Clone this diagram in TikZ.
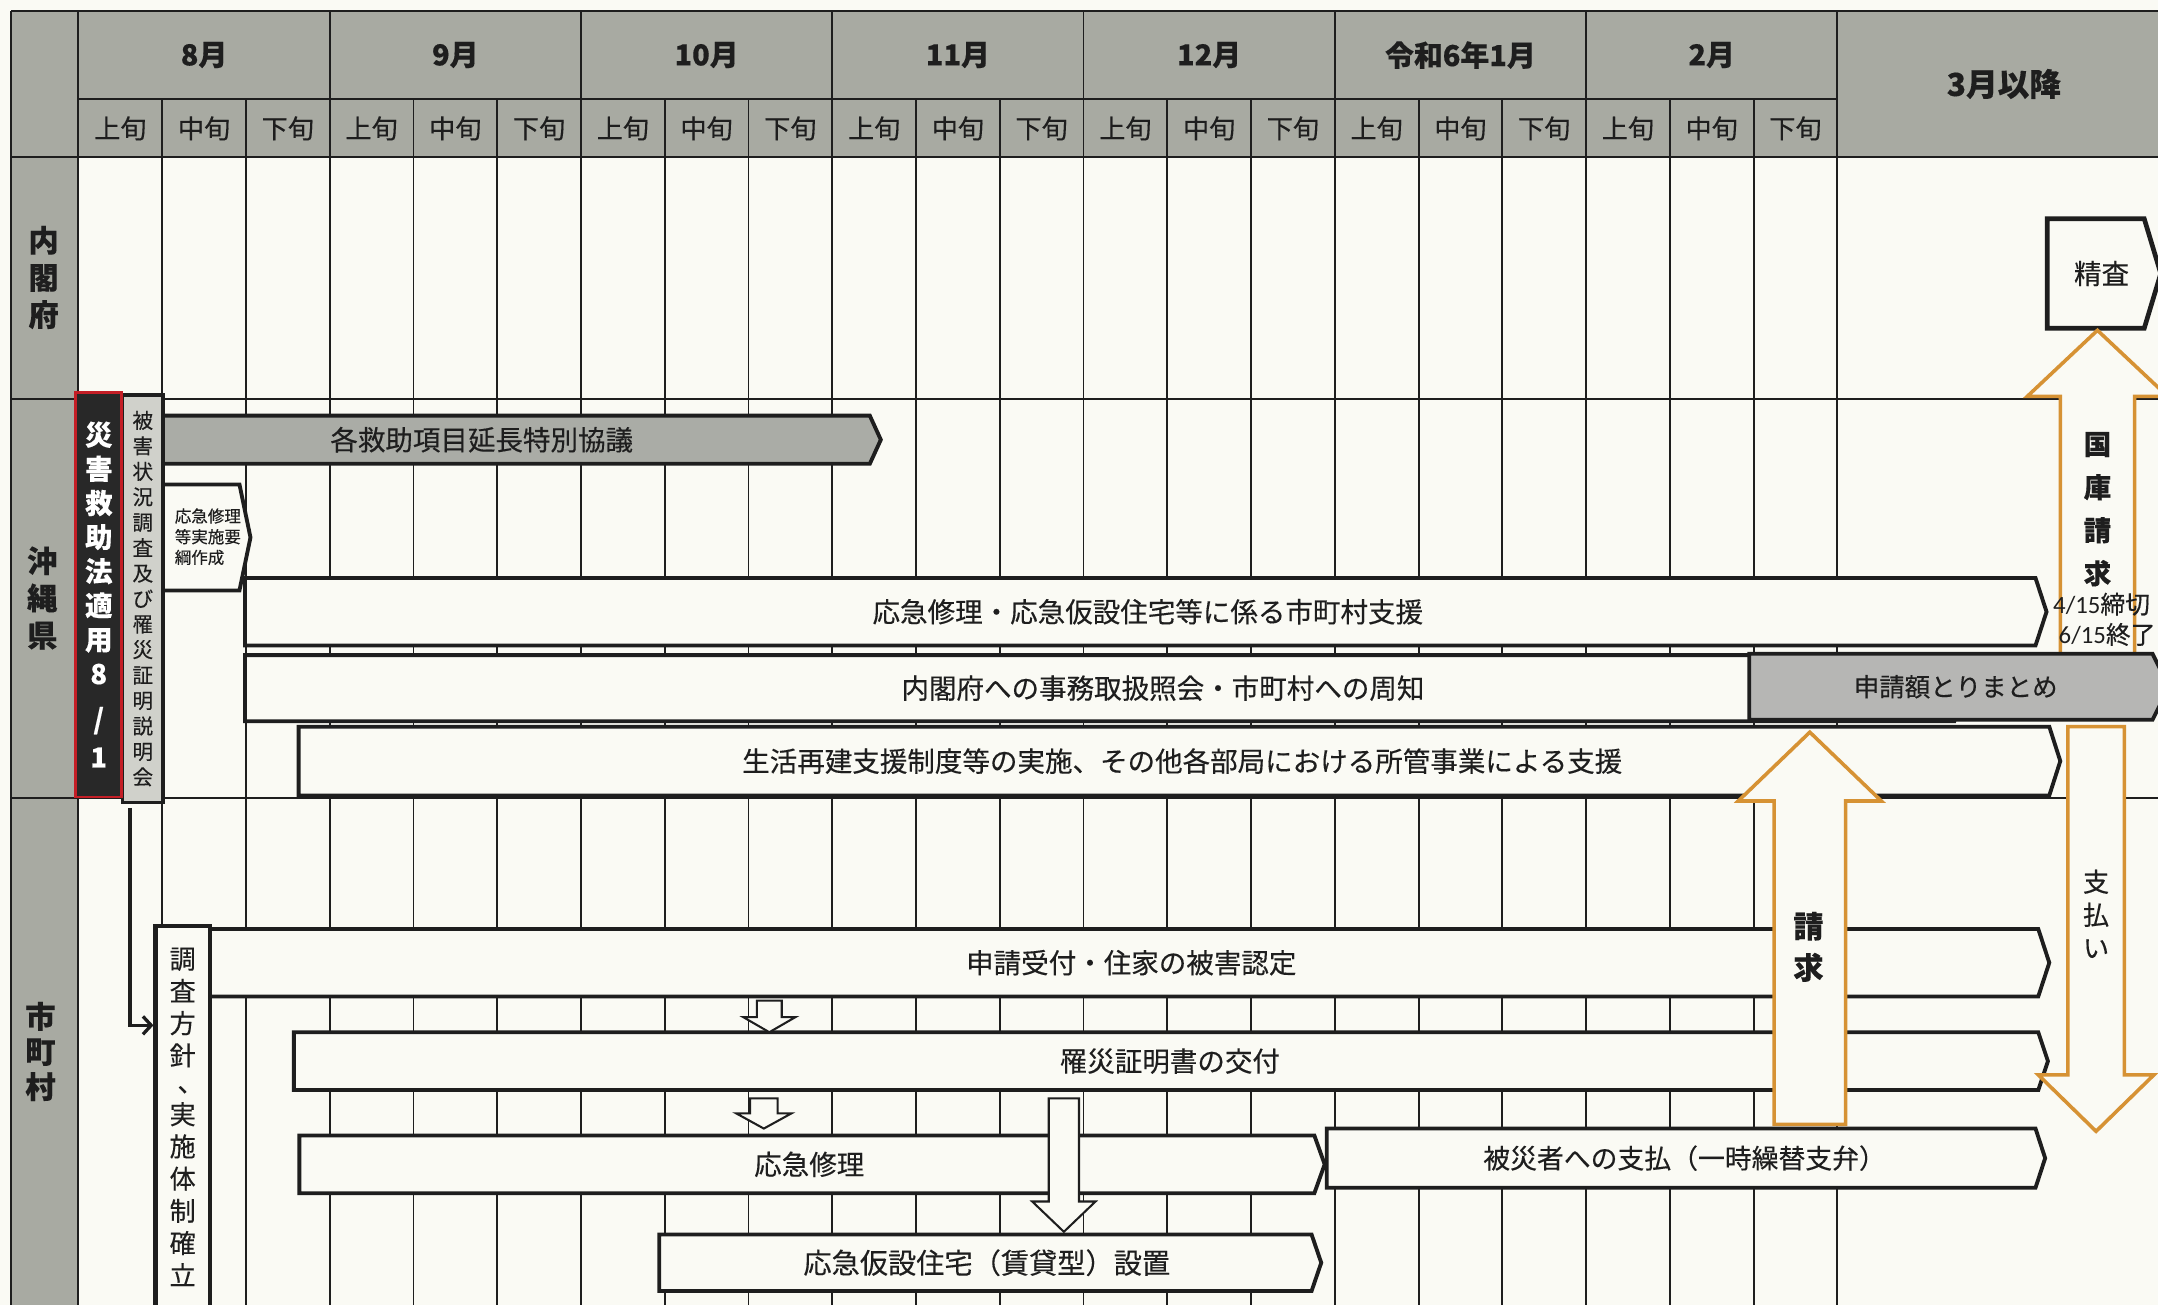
\documentclass[tikz,border=0pt]{standalone}
\usepackage{fontspec}
\setmainfont{Noto Sans CJK JP}[FakeBold=0.3]
\newfontfamily\calfont{Carlito}
\usetikzlibrary{calc,arrows.meta}
\definecolor{paper}{RGB}{250,250,244}
\definecolor{hdr}{RGB}{168,170,162}
\definecolor{ink}{RGB}{30,30,30}
\definecolor{orng}{RGB}{214,146,52}
\definecolor{barg}{RGB}{170,172,166}
\definecolor{sumg}{RGB}{182,182,180}
\definecolor{lgray}{RGB}{208,209,203}
\definecolor{blk}{RGB}{40,40,40}
\definecolor{redb}{RGB}{196,30,38}
\tikzset{
  gridl/.style={draw=ink, line width=1.4pt},
  boxl/.style={draw=ink, line width=2.8pt, fill=paper, line join=miter},
  barl/.style={boxl, fill=barg},
  suml/.style={boxl, fill=sumg},
  btxt/.style={inner sep=0pt, text=ink, font=\fontsize{20}{24}\selectfont},
  monlab/.style={inner sep=0pt, text=ink, font=\fontsize{21}{24}\selectfont\bfseries},
  sublab/.style={inner sep=0pt, text=ink, font=\fontsize{19}{22}\selectfont},
  rowlab/.style={inner sep=0pt, text=ink, align=center, font=\fontsize{22}{27}\selectfont\bfseries},
  vtxt/.style={inner sep=0pt, text=ink, align=center},
  blockw/.style={draw=ink, line width=1.5pt, fill=paper, line join=miter},
  blocko/.style={draw=orng, line width=2.6pt, fill=paper, line join=miter},
  conn/.style={draw=ink, line width=2.4pt, -{Straight Barb[length=6pt,width=13pt]}, shorten >=1.5pt},
}
% pentagon box: name, style, x1, y1, x2, y2, tip x, text x, text
\newcommand\pbox[9]{%
  \draw[#2] (#3,#4) -- (#5,#4) -- (#7,{(#4+#6)/2}) -- (#5,#6) -- (#3,#6) -- cycle;
  \node[btxt] (#1) at (#8,{(#4+#6)/2}) {#9};}
% vertical block arrow: style, start coord, tip coord, shaft half, head half, head length
\newcommand\blkarrow[6]{%
  \draw[#1] let \p1=(#2), \p2=(#3), \p3=($(#3)!#6!(#2)$) in
    ({\x1-#4},\y1) -- ({\x1-#4},\y3) -- ({\x1-#5},\y3) -- (\x2,\y2) --
    ({\x1+#5},\y3) -- ({\x1+#4},\y3) -- ({\x1+#4},\y1) -- cycle;}
\begin{document}
\begin{tikzpicture}[x=1pt,y=-1pt]
\useasboundingbox (0,0) rectangle (1568,948);
\clip (0,0) rectangle (1568,948);
\fill[paper] (0,0) rectangle (1568,948);
% header and label column
\fill[hdr] (8,8) rectangle (1568,114);
\fill[hdr] (8,114) rectangle (57,948);
\draw[gridl] (8,8) -- (1568,8);
\draw[gridl] (8,8) -- (8,948);
\draw[gridl] (57,8) -- (57,948);
\draw[gridl] (57,72) -- (1335,72);
\draw[gridl] (8,114) -- (1568,114);
\draw[gridl] (8,290) -- (1568,290);
\draw[gridl] (8,580) -- (1568,580);
\foreach \k in {1,...,21} {
  \pgfmathsetmacro\xx{57+\k*60.857}
  \pgfmathtruncatemacro\m{mod(\k,3)}
  \ifnum\m=0 \draw[gridl] (\xx,8) -- (\xx,948);\else\draw[gridl] (\xx,72) -- (\xx,948);\fi
}
\foreach \mo [count=\i from 0] in {8月,9月,10月,11月,12月,令和6年1月,2月} {
  \pgfmathsetmacro\xx{57+(3*\i+1.5)*60.857}
  \node[monlab] (mon\i) at (\xx,40) {\mo};
}
\foreach \k in {0,...,20} {
  \pgfmathsetmacro\xx{57+(\k+0.5)*60.857}
  \pgfmathtruncatemacro\m{mod(\k,3)}
  \node[sublab] (sub\k) at (\xx,93.3) {\ifcase\m 上旬\or 中旬\or 下旬\fi};
}
\node[monlab, font=\fontsize{23}{26}\selectfont\bfseries] (mar) at (1456,61) {3月以降};
% row labels
\node[rowlab] (lnai) at (31.7,201.6) {内\\閣\\府};
\node[rowlab] (loki) at (30.7,434.5) {沖\\縄\\県};
\node[rowlab, font=\fontsize{22}{25.5}\selectfont\bfseries] (lshi) at (29.4,764) {市\\町\\村};
% Okinawa row
\pbox{kaku}{barl}{110}{302}{632}{337}{640}{350}{各救助項目延長特別協議}
\draw[boxl] (112,352) -- (174,352) -- (182,390.5) -- (174,429) -- (112,429) -- cycle;
\node[inner sep=0pt, text=ink, align=left, font=\fontsize{12}{15}\selectfont] (yoko) at (151,390) {応急修理\\等実施要\\綱作成};
\pbox{shien}{boxl}{178}{420}{1479}{469}{1487}{834}{応急修理・応急仮設住宅等に係る市町村支援}
\pbox{jimu}{boxl}{178}{476}{1420}{524}{1428}{845}{内閣府への事務取扱照会・市町村への周知}
\pbox{seikatsu}{boxl}{217}{528}{1489}{578}{1497}{859}{生活再建支援制度等の実施、その他各部局における所管事業による支援}
\node[draw=ink, line width=2.4pt, fill=lgray, minimum width=29.5pt, minimum height=296pt,
  inner sep=0pt, outer sep=0pt, anchor=north west, align=center, text=ink,
  font=\fontsize{15}{18.5}\selectfont] (hbox) at (89,287)
  {被\\害\\状\\況\\調\\査\\及\\び\\罹\\災\\証\\明\\説\\明\\会};
\node[draw=redb, line width=2pt, fill=blk, minimum width=33.5pt, minimum height=294pt,
  inner sep=0pt, outer sep=0pt, anchor=north west, align=center, text=white,
  font=\fontsize{20}{24.8}\selectfont\bfseries] (saigai) at (55,285)
  {災\\害\\救\\助\\法\\適\\用\\8\\[8pt]/\\[3pt]1};
% Cabinet Office row
\pbox{seisa}{boxl, line width=3.4pt}{1487.5}{159}{1558}{238.5}{1570}{1527}{精査}
% Municipal row
\pbox{uketsuke}{boxl}{151}{675}{1481}{724}{1489}{822}{申請受付・住家の被害認定}
\pbox{risai}{boxl}{213.5}{750}{1481}{792}{1488}{850}{罹災証明書の交付}
\pbox{shuri}{boxl}{217.5}{825}{955}{867}{962.5}{588}{応急修理}
\pbox{hisai}{boxl}{964}{820}{1479}{863}{1486}{1224}{{\fontsize{19.5}{22}\selectfont 被災者への支払（一時繰替支弁）}}
\pbox{kasetsu}{boxl}{479}{897}{953}{938}{960}{717}{{\fontsize{20.5}{22}\selectfont 応急仮設住宅（賃貸型）設置}}
\node[draw=ink, line width=3pt, fill=paper, minimum width=39.5pt, minimum height=277pt,
  inner sep=0pt, outer sep=0pt, anchor=north west, align=center, text=ink,
  font=\fontsize{19}{23.4}\selectfont] (chosa) at (113,673)
  {調\\査\\方\\針\\[-4pt]\hspace*{0.6em}、\\実\\施\\体\\制\\確\\立};
% small block arrows
\coordinate (a1s) at (559,727); \coordinate (a1t) at (559,750);
\blkarrow{blockw}{a1s}{a1t}{9pt}{19pt}{11pt}
\coordinate (a2s) at (555,798); \coordinate (a2t) at (555,820);
\blkarrow{blockw}{a2s}{a2t}{10pt}{20pt}{11pt}
\coordinate (a3s) at (773,798); \coordinate (a3t) at (773,895);
\blkarrow{blockw}{a3s}{a3t}{11pt}{23pt}{22pt}
% orange arrows
\coordinate (kks) at (1524,477); \coordinate (kkt) at (1524,240);
\blkarrow{blocko}{kks}{kkt}{27pt}{51pt}{48pt}
\coordinate (shs) at (1523,528); \coordinate (sht) at (1523,822);
\blkarrow{blocko}{shs}{sht}{20.5pt}{42pt}{41pt}
\pbox{gaku}{suml}{1271}{475}{1564}{523}{1576}{1421}{{\fontsize{18.5}{22}\selectfont 申請額とりまとめ}}
\coordinate (sks) at (1315,817); \coordinate (skt) at (1315,532);
\blkarrow{blocko}{sks}{skt}{26pt}{52pt}{50pt}
% connector
\draw[conn] ([xshift=5.5pt,yshift=-4pt]hbox.south west) |- ([yshift=-72pt]chosa.north west);
% arrow labels
\node[vtxt, font=\fontsize{20}{31.3}\selectfont\bfseries] (kkl) at (1524,370) {国\\庫\\請\\求};
\node[vtxt, font=\fontsize{22}{30}\selectfont\bfseries] (skl) at (1314,688) {請\\求};
\node[vtxt, font=\fontsize{19}{24}\selectfont] (shl) at (1523,664) {支\\払\\い};
\node[inner sep=0pt, text=ink, font=\fontsize{18}{20}\selectfont] (dl1) at (1527,439) {{\calfont 4/15}締切};
\node[inner sep=0pt, text=ink, font=\fontsize{18}{20}\selectfont] (dl2) at (1531,461) {{\calfont 6/15}終了};
\end{tikzpicture}
\end{document}
